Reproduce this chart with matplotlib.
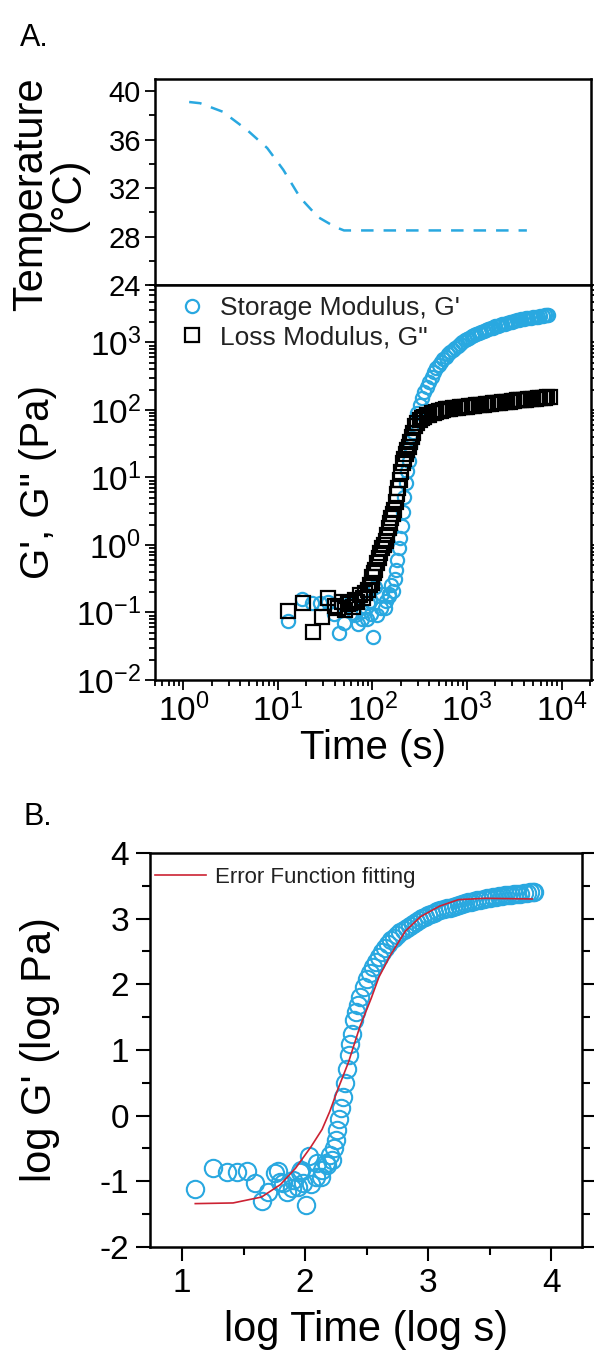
import numpy as np
import matplotlib.pyplot as plt
from matplotlib.ticker import LogLocator, MultipleLocator, NullFormatter

plt.rcParams['font.family'] = ['Liberation Sans', 'DejaVu Sans']
plt.rcParams['mathtext.fontset'] = 'custom'
plt.rcParams['mathtext.rm'] = 'Liberation Sans'
plt.rcParams['mathtext.default'] = 'regular'
plt.rcParams['axes.unicode_minus'] = False

# temperature ramp (s, degC)
temp_time = [1.15, 1.5, 2.6, 4.7, 7.7, 11.4, 17.2, 26.6, 40, 50, 60, 100, 300, 1000, 4300]
temp_val = [39.1, 39.0, 38.3, 36.8, 35.3, 33.5, 31.2, 29.6, 28.8, 28.5, 28.5, 28.5, 28.5, 28.5, 28.5]

# storage modulus G' (log s, log Pa)
gp_logt = [1.105, 1.25, 1.365, 1.446, 1.527, 1.59, 1.65, 1.70, 1.755, 1.78, 1.80, 1.82,
           1.85, 1.89, 1.90, 1.94, 1.955, 1.97, 1.985, 2.01, 2.03, 2.05, 2.09, 2.10,
           2.13, 2.14, 2.17, 2.18, 2.20, 2.22, 2.235, 2.25, 2.262, 2.277, 2.292, 2.308,
           2.323, 2.338, 2.354, 2.369, 2.385, 2.40, 2.415, 2.431,
           2.45, 2.475, 2.5, 2.525, 2.55, 2.575, 2.6, 2.625, 2.65, 2.675, 2.7, 2.725,
           2.75, 2.775, 2.8, 2.825, 2.85, 2.875, 2.9, 2.925, 2.95, 2.975, 3.0, 3.025,
           3.05, 3.075, 3.1, 3.125, 3.15, 3.175, 3.2, 3.225, 3.25, 3.275, 3.3, 3.325,
           3.35, 3.375, 3.4, 3.425, 3.45, 3.475, 3.5, 3.525, 3.55, 3.575, 3.6, 3.625,
           3.65, 3.675, 3.7, 3.725, 3.75, 3.775, 3.8, 3.825, 3.85, 3.862]
gp_logg = [-1.12, -0.80, -0.86, -0.86, -0.85, -1.02, -1.30, -1.16, -0.88, -0.85, -1.01, -1.03,
           -1.17, -1.10, -0.98, -1.09, -0.86, -0.83, -1.02, -1.36, -0.62, -1.04, -0.93, -0.72,
           -0.94, -0.83, -0.72, -0.75, -0.60, -0.68, -0.50, -0.37, -0.22, -0.05, 0.11, 0.28,
           0.49, 0.71, 0.92, 1.09, 1.25, 1.46, 1.58, 1.68,
           1.80, 1.96, 2.08, 2.17, 2.26, 2.34, 2.42, 2.49, 2.56, 2.62, 2.67, 2.71,
           2.75, 2.79, 2.83, 2.86, 2.89, 2.92, 2.95, 2.98, 3.01, 3.03, 3.05, 3.07,
           3.09, 3.11, 3.13, 3.14, 3.16, 3.17, 3.18, 3.20, 3.21, 3.22, 3.24, 3.25,
           3.26, 3.27, 3.28, 3.29, 3.30, 3.31, 3.32, 3.33, 3.335, 3.34, 3.35, 3.355,
           3.36, 3.365, 3.37, 3.375, 3.38, 3.385, 3.39, 3.40, 3.405, 3.41]

# loss modulus G'' (log s, log Pa)
gpp_logt = [1.108, 1.267, 1.37, 1.467, 1.53, 1.60, 1.636, 1.68, 1.71, 1.74, 1.763, 1.79,
            1.815, 1.84, 1.87, 1.90, 1.92, 1.95, 1.97, 1.99, 2.00, 2.015, 2.03, 2.05, 2.07,
            2.085, 2.10, 2.12, 2.14, 2.155, 2.17, 2.185, 2.20, 2.215, 2.23, 2.245, 2.26,
            2.275, 2.29, 2.305, 2.32, 2.335, 2.35, 2.365, 2.385, 2.40, 2.415, 2.43,
            2.45, 2.475, 2.5, 2.525, 2.55, 2.575, 2.6, 2.625, 2.65, 2.675, 2.7, 2.725,
            2.75, 2.775, 2.8, 2.825, 2.85, 2.875, 2.9, 2.925, 2.95, 2.975, 3.0, 3.025,
            3.05, 3.075, 3.1, 3.125, 3.15, 3.175, 3.2, 3.225, 3.25, 3.275, 3.3, 3.325,
            3.35, 3.375, 3.4, 3.425, 3.45, 3.475, 3.5, 3.525, 3.55, 3.575, 3.6, 3.625,
            3.65, 3.675, 3.7, 3.725, 3.75, 3.775, 3.8, 3.825, 3.85, 3.88]
gpp_logg = [-0.98, -0.86, -1.29, -1.07, -0.785, -0.90, -0.93, -0.85, -0.96, -0.88, -0.86, -0.92,
            -0.81, -0.84, -0.74, -0.78, -0.71, -0.67, -0.60, -0.56, -0.47, -0.42, -0.37, -0.27, -0.20,
            -0.12, -0.05, 0.0, 0.06, 0.15, 0.25, 0.33, 0.40, 0.46, 0.52, 0.63, 0.75,
            0.85, 0.96, 1.08, 1.21, 1.28, 1.35, 1.40, 1.45, 1.53, 1.60, 1.66,
            1.76, 1.81, 1.85, 1.88, 1.90, 1.92, 1.93, 1.95, 1.96, 1.97, 1.98, 1.99,
            2.00, 2.01, 2.015, 2.02, 2.025, 2.03, 2.035, 2.04, 2.045, 2.05, 2.05, 2.055,
            2.06, 2.065, 2.07, 2.075, 2.08, 2.08, 2.085, 2.09, 2.095, 2.10, 2.10, 2.105,
            2.11, 2.115, 2.12, 2.12, 2.125, 2.13, 2.135, 2.14, 2.14, 2.145, 2.15, 2.15,
            2.155, 2.16, 2.16, 2.165, 2.17, 2.17, 2.175, 2.18, 2.185, 2.19]

# error function fit curve (log s, log Pa)
fit_logt = [1.108, 1.415, 1.646, 1.80, 1.923, 2.046, 2.138, 2.20, 2.262, 2.354, 2.446,
            2.538, 2.60, 2.692, 2.815, 2.938, 3.092, 3.246, 3.462, 3.846]
fit_logg = [-1.34, -1.33, -1.24, -1.05, -0.80, -0.48, -0.21, 0.06, 0.38, 0.82, 1.36,
            1.79, 2.11, 2.44, 2.81, 3.03, 3.19, 3.29, 3.31, 3.30]

blue = '#29a8e0'
tick_kw = dict(direction='out', width=1.3, colors='black')

fig = plt.figure(figsize=(5.94, 13.57), dpi=100)

# ---- A: temperature
ax_t = fig.add_axes([0.2609, 0.7900, 0.7340, 0.1518])
ax_t.semilogx(temp_time, temp_val, color=blue, lw=1.8, dashes=(5, 4))
ax_t.set_xlim(0.5, 2.05e4)
ax_t.set_ylim(24, 41)
ax_t.yaxis.set_major_locator(MultipleLocator(4))
ax_t.yaxis.set_minor_locator(MultipleLocator(2))
ax_t.tick_params(axis='x', which='both', bottom=False, labelbottom=False)
ax_t.tick_params(axis='y', which='major', length=7, labelsize=21, pad=3, **tick_kw)
ax_t.tick_params(axis='y', which='minor', length=4, **tick_kw)
ax_t.set_ylabel('Temperature\n(°C)', fontsize=30, linespacing=0.9)
ax_t.yaxis.label.set_va('center')
ax_t.yaxis.set_label_coords(-0.241, 0.44)

# ---- A: moduli
ax_g = fig.add_axes([0.2609, 0.4989, 0.7340, 0.2911])
ax_g.loglog(10 ** np.array(gp_logt), 10 ** np.array(gp_logg), 'o', ls='none', mfc='none',
            mec=blue, ms=9.5, mew=1.6, label="Storage Modulus, G'")
ax_g.loglog(10 ** np.array(gpp_logt), 10 ** np.array(gpp_logg), 's', ls='none', mfc='none',
            mec='black', ms=10.5, mew=1.6, label='Loss Modulus, G"')
ax_g.set_xlim(0.5, 2.05e4)
ax_g.set_ylim(1e-2, 7.1e3)
for axis in (ax_g.xaxis, ax_g.yaxis):
    axis.set_major_locator(LogLocator(base=10, numticks=15))
    axis.set_minor_locator(LogLocator(base=10, subs=np.arange(2, 10), numticks=15))
    axis.set_minor_formatter(NullFormatter())
ax_g.tick_params(which='both', right=True, **tick_kw)
ax_g.tick_params(which='major', length=7, labelsize=24, pad=3)
ax_g.tick_params(which='minor', length=4)
ax_g.set_xlabel('Time (s)', fontsize=29)
ax_g.xaxis.label.set_va('center')
ax_g.xaxis.set_label_coords(0.5, -0.172)
ax_g.set_ylabel("G', G\" (Pa)", fontsize=29)
ax_g.yaxis.label.set_va('center')
ax_g.yaxis.set_label_coords(-0.268, 0.5)
leg = ax_g.legend(loc='upper left', bbox_to_anchor=(0.055, 0.972), frameon=False, fontsize=19,
                  handlelength=1.0, handletextpad=0.55, labelspacing=0.2, borderpad=0,
                  borderaxespad=0)
for t in leg.get_texts():
    t.set_color('#222222')

# ---- B: log-log with error function fit
ax_b = fig.add_axes([0.2525, 0.0811, 0.7273, 0.2903])
ax_b.plot(gp_logt, gp_logg, 'o', ls='none', mfc='none', mec=blue, ms=12.5, mew=1.5)
fit_line, = ax_b.plot(fit_logt, fit_logg, color='#cc2233', lw=1.2)
ax_b.set_xlim(0.74, 4.25)
ax_b.set_ylim(-2, 4)
ax_b.xaxis.set_major_locator(MultipleLocator(1))
ax_b.xaxis.set_minor_locator(MultipleLocator(0.5))
ax_b.yaxis.set_major_locator(MultipleLocator(1))
ax_b.yaxis.set_minor_locator(MultipleLocator(0.5))
ax_b.tick_params(which='both', right=True, **tick_kw)
ax_b.tick_params(which='major', length=10, width=1.5, labelsize=24, pad=5)
ax_b.tick_params(which='minor', length=6, width=1.5)
ax_b.set_xlabel('log Time (log s)', fontsize=30)
ax_b.xaxis.label.set_va('center')
ax_b.xaxis.set_label_coords(0.5, -0.21)
ax_b.set_ylabel("log G' (log Pa)", fontsize=30)
ax_b.yaxis.label.set_va('center')
ax_b.yaxis.set_label_coords(-0.255, 0.5)
leg_b = ax_b.legend([fit_line], ['Error Function fitting'], loc='upper left',
                    bbox_to_anchor=(0.012, 0.964), frameon=False, fontsize=16,
                    handlelength=2.3, handletextpad=0.4, borderpad=0, borderaxespad=0)
for t in leg_b.get_texts():
    t.set_color('#222222')

for ax in (ax_t, ax_g, ax_b):
    for s in ax.spines.values():
        s.set_linewidth(1.8)

fig.text(0.034, 1 - 38 / 1357, 'A.', fontsize=22, va='center')
fig.text(0.039, 1 - 817 / 1357, 'B.', fontsize=22, va='center')

fig.savefig('out.png', dpi=100)
